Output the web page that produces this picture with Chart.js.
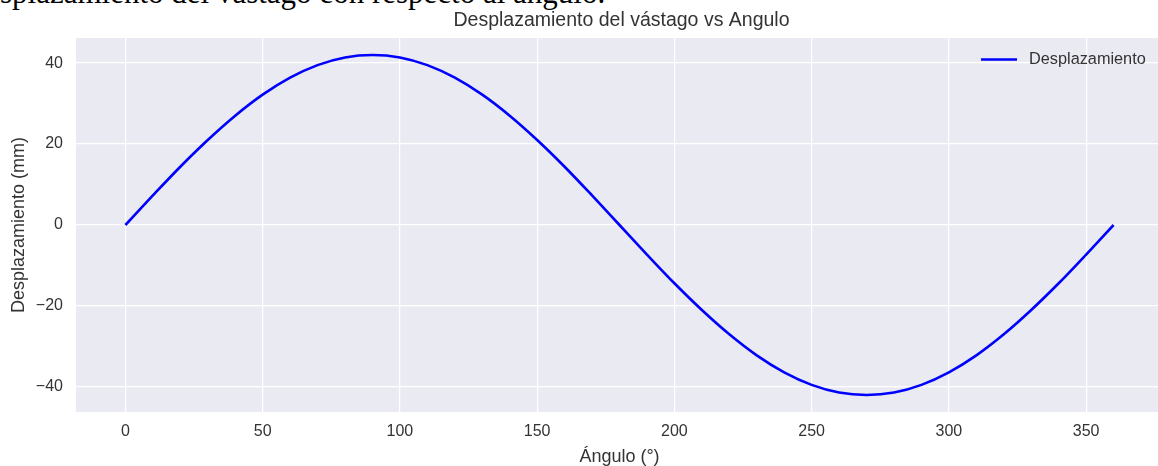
<!DOCTYPE html>
<html>
<head>
<meta charset="utf-8">
<script src="https://cdn.jsdelivr.net/npm/chart.js@4"></script>
<style>
  html, body { margin: 0; padding: 0; background: #fff; overflow: hidden; width: 1158px; height: 466px; }
  #doc { position: absolute; left: 0; top: -23px; font-family: "Liberation Serif", serif; font-size: 31px; line-height: 31px; color: #000; white-space: nowrap; }
  #wrap { position: absolute; left: 0; top: 0; width: 1180px; height: 466px; }
</style>
</head>
<body>
<div id="doc">splazamiento del vástago con respecto al ángulo.</div>
<div id="wrap"><canvas id="chart"></canvas></div>
<script>
const angulos = [0, 10, 20, 30, 40, 50, 60, 70, 80, 90, 100, 110, 120, 130, 140, 150, 160, 170, 180,
                 190, 200, 210, 220, 230, 240, 250, 260, 270, 280, 290, 300, 310, 320, 330, 340, 350, 360];
const desplazamiento = [0, 7.3, 14.4, 21.0, 27.0, 32.2, 36.4, 39.5, 41.4, 42.0, 41.4, 39.5, 36.4, 32.2, 27.0, 21.0, 14.4, 7.3, 0,
                        -7.3, -14.4, -21.0, -27.0, -32.2, -36.4, -39.5, -41.4, -42.0, -41.4, -39.5, -36.4, -32.2, -27.0, -21.0, -14.4, -7.3, 0];
const yTicks = [-40, -20, 0, 20, 40];
const titulo = "Desplazamiento del vástago vs Angulo";

const textColor = "#333333";
const fontName = "'Liberation Sans', Arial, sans-serif";

// fondo gris estilo seaborn
const fondo = {
  id: "fondo",
  beforeDraw(chart) {
    const a = chart.chartArea, ctx = chart.ctx;
    ctx.save();
    ctx.fillStyle = "#EAEAF2";
    ctx.fillRect(a.left, a.top, a.right - a.left, a.bottom - a.top);
    ctx.restore();
  }
};

// título centrado sobre el área y leyenda dentro del gráfico
const extras = {
  id: "extras",
  afterDraw(chart) {
    const a = chart.chartArea, ctx = chart.ctx;
    ctx.save();
    ctx.fillStyle = textColor;
    ctx.font = "19.5px " + fontName;
    ctx.textAlign = "center";
    ctx.textBaseline = "middle";
    ctx.fillText(titulo, (a.left + a.right) / 2 + 2, 20.5);

    const ds = chart.data.datasets[0];
    const y = 59.5;
    ctx.strokeStyle = ds.borderColor;
    ctx.lineWidth = ds.borderWidth;
    ctx.beginPath();
    ctx.moveTo(a.right - 182, y);
    ctx.lineTo(a.right - 146, y);
    ctx.stroke();
    ctx.font = "16.3px " + fontName;
    ctx.textAlign = "left";
    ctx.fillText(ds.label, a.right - 134, y);
    ctx.restore();
  }
};

new Chart(document.getElementById("chart"), {
  type: "line",
  data: {
    labels: angulos,
    datasets: [{
      label: "Desplazamiento",
      data: angulos.map((a, i) => ({ x: a, y: desplazamiento[i] })),
      borderColor: "#0000FF",
      borderWidth: 2.6,
      pointRadius: 0,
      fill: false,
      cubicInterpolationMode: "monotone"
    }]
  },
  options: {
    responsive: true,
    maintainAspectRatio: false,
    animation: false,
    layout: { padding: { top: 38, right: 17, left: 0, bottom: 0 } },
    plugins: {
      legend: { display: false },
      title: { display: false },
      tooltip: { enabled: false }
    },
    scales: {
      x: {
        type: "linear",
        min: -18,
        max: 378,
        afterBuildTicks(scale) {
          scale.ticks = [0, 50, 100, 150, 200, 250, 300, 350].map(v => ({ value: v }));
        },
        afterFit(scale) { scale.height = 54; },
        grid: { color: "#FFFFFF", lineWidth: 1.2, drawTicks: false },
        border: { display: false },
        ticks: { color: textColor, font: { family: fontName, size: 16 }, padding: 10, maxRotation: 0 },
        title: { display: true, text: "Ángulo (°)", color: textColor, font: { family: fontName, size: 18, lineHeight: 1 }, padding: { top: 0, bottom: 0 } }
      },
      y: {
        min: -46.2,
        max: 46.2,
        afterBuildTicks(scale) {
          scale.ticks = yTicks.map(v => ({ value: v }));
        },
        afterFit(scale) { scale.width = 76; },
        grid: { color: "#FFFFFF", lineWidth: 1.2, drawTicks: false },
        border: { display: false },
        ticks: {
          color: textColor, font: { family: fontName, size: 16 }, padding: 13,
          callback: v => (v < 0 ? "\u2212" + Math.abs(v) : String(v))
        },
        title: { display: true, text: "Desplazamiento (mm)", color: textColor, font: { family: fontName, size: 18, lineHeight: 1 }, padding: { top: 10, bottom: 0 } }
      }
    }
  },
  plugins: [fondo, extras]
});
</script>
</body>
</html>
